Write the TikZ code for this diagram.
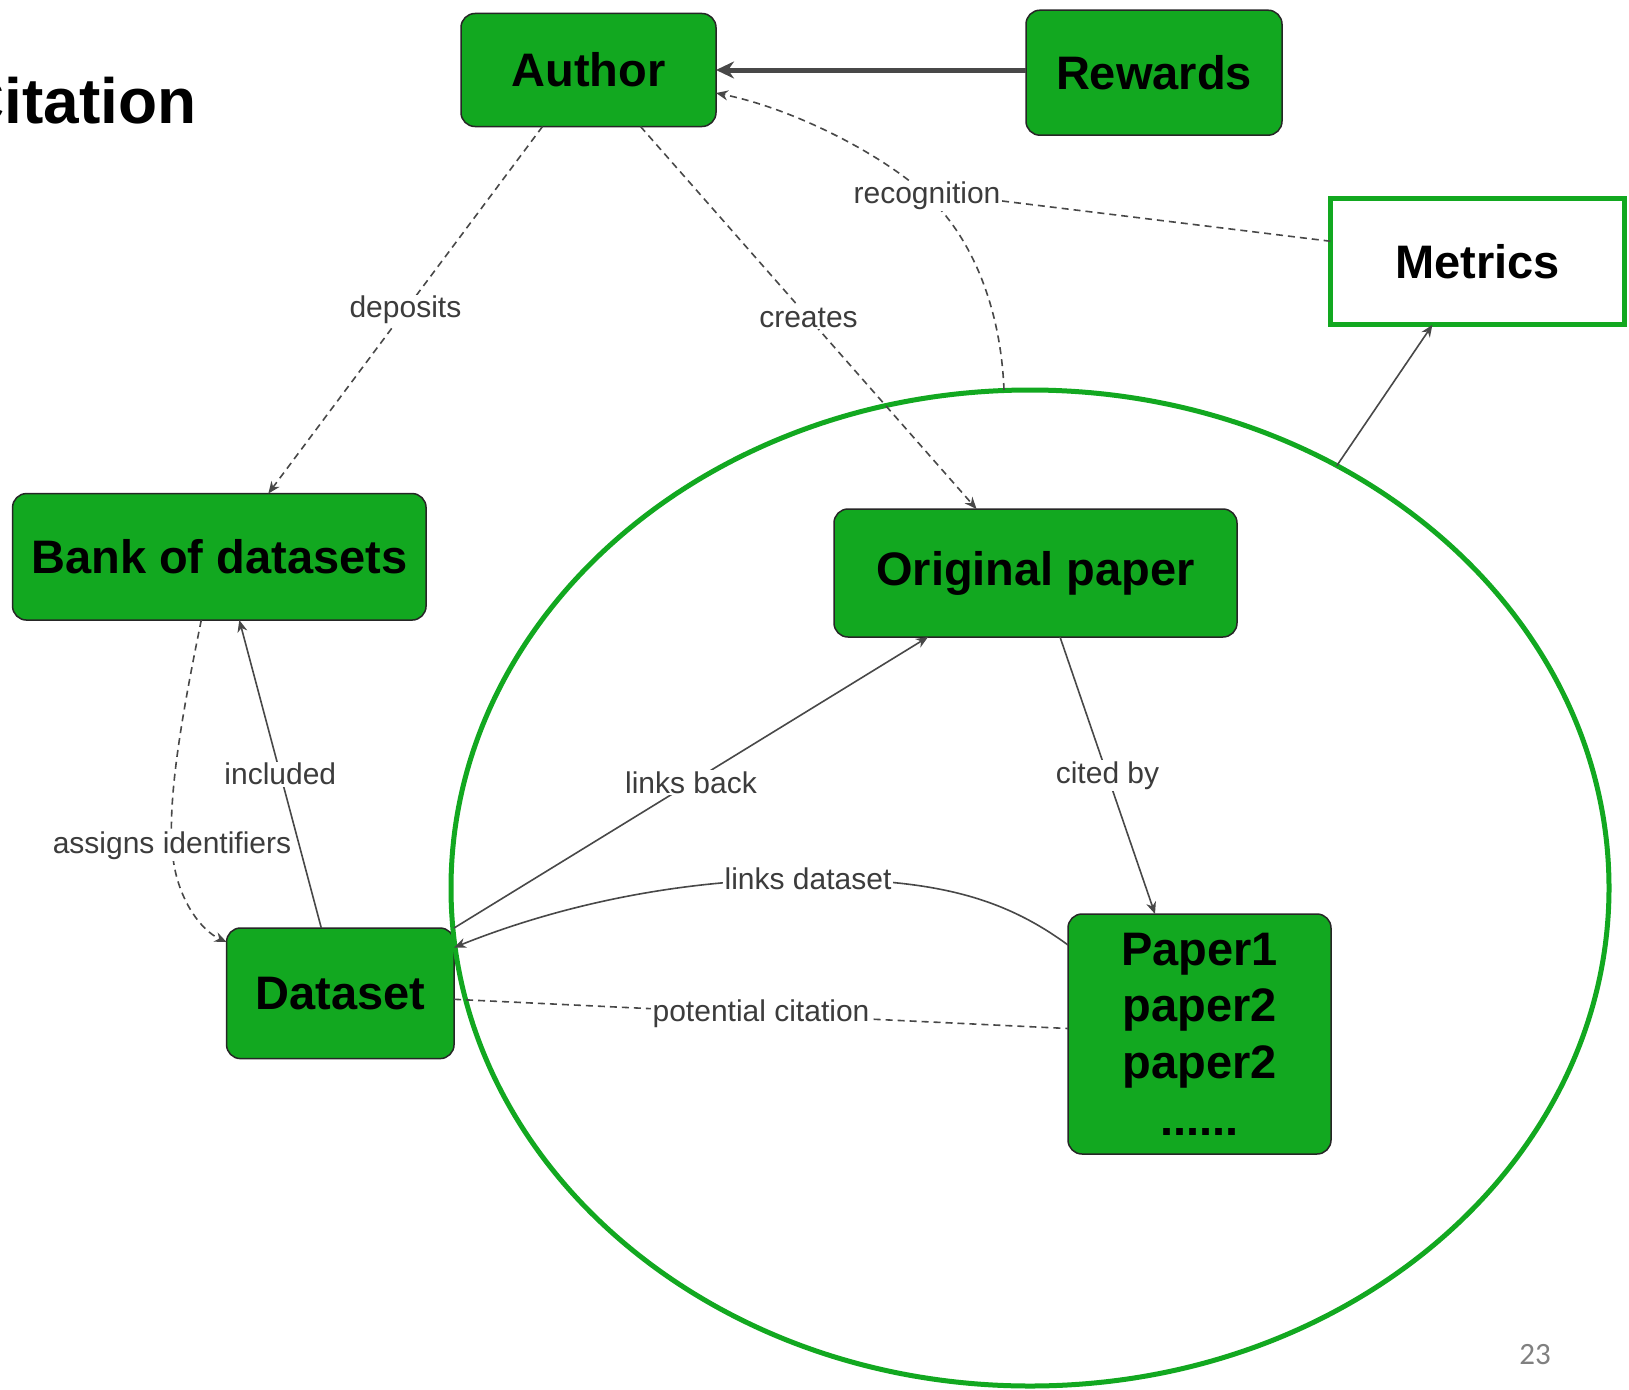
\documentclass[tikz,border=0pt]{standalone}
\usepackage{fontspec}
\setmainfont{Liberation Sans}
\newfontfamily\numfont{Carlito}
\usetikzlibrary{shapes.geometric,arrows.meta}

\definecolor{boxgreen}{RGB}{18,168,32}
\definecolor{linegray}{RGB}{72,72,72}
\definecolor{labelgray}{RGB}{60,60,60}
\definecolor{pagegray}{RGB}{128,128,128}

\begin{document}
\begin{tikzpicture}[x=1pt,y=-1pt,
  box/.style={draw=black!85, line width=1.5pt, fill=boxgreen, rounded corners=14pt,
    font=\fontsize{47}{56.6}\selectfont\bfseries, text=black, align=center,
    inner sep=0pt, outer sep=0pt},
  openbox/.style={draw=boxgreen, line width=5pt, fill=white,
    font=\fontsize{47}{56.6}\selectfont\bfseries, text=black,
    inner sep=0pt, outer sep=0pt},
  lbl/.style={font=\fontsize{30}{36}\selectfont, text=labelgray, fill=white, inner sep=1.5pt},
  link/.style={draw=linegray, line width=1.6pt},
  dlink/.style={link, dash pattern=on 7pt off 5pt},
  arrowend/.style={-{Stealth[length=12pt,width=10pt]}}
]
% page
\fill[white] (0,0) rectangle (1629,1389);
\useasboundingbox (0,0) rectangle (1629,1389);

% title
\node[anchor=base east, font=\fontsize{64}{70}\selectfont\bfseries, inner sep=0pt]
  (title) at (197,123) {Citation};

% boxes
\node[box, minimum width=255, minimum height=113] (Author) at (588.5,70) {Author};
\node[box, minimum width=256, minimum height=125] (Rewards) at (1154,72.7) {Rewards};
\node[openbox, minimum width=294, minimum height=126] (Metrics) at (1477.4,261.9) {Metrics};
\node[box, minimum width=413.5, minimum height=126.5] (Bank) at (219.3,556.8) {Bank of datasets};
\node[box, minimum width=403, minimum height=128] (Orig) at (1035.5,573) {Original paper};
\node[box, minimum width=227.5, minimum height=130.6] (Dataset) at (340.3,993.3) {Dataset};
\node[box, minimum width=263, minimum height=240] (Papers) at (1199.5,1034)
  {Paper1\\paper2\\paper2\\......};

% the citation circle
\node[ellipse, draw=boxgreen, line width=5pt, minimum width=1158, minimum height=996,
  inner sep=0pt, outer sep=0pt] (ell) at (1030,888) {};

% page number
\node[font=\numfont\fontsize{31}{36}\selectfont, text=pagegray] (pagenum) at (1535,1355) {23};

% Rewards feed back to the author
\draw[draw=linegray, line width=5pt, -{Stealth[length=18pt,width=17pt]}]
  (Rewards.west |- Author.east) -- (Author.east);

% recognition: from the circle back to the author, joined by Metrics
\coordinate (recogpt) at (927,196);
\coordinate (elltop) at ([xshift=-26pt]ell.north);
\draw[dlink] (elltop) .. controls (1000,290) and (960,225) .. (recogpt);
\draw[dlink, arrowend] (recogpt) .. controls (890,160) and (800,110) .. ([yshift=-23pt]Author.east);
\node[lbl] (recog) at (recogpt) {recognition};
\draw[dlink] ([yshift=-5pt]recog.east) -- (Metrics.172);

% author relations
\draw[dlink, arrowend] ([xshift=-46pt]Author.south) -- node[lbl]{deposits} ([xshift=49pt]Bank.north);
\draw[dlink, arrowend] ([xshift=52pt]Author.south) -- node[lbl]{creates} ([xshift=-59pt]Orig.north);

% bank and dataset
\coordinate (assignpt) at (172,846);
\draw[dlink] ([xshift=-18pt]Bank.south) .. controls (185,700) and (168,790) .. (assignpt);
\draw[dlink, arrowend] (assignpt) .. controls (174,895) and (200,930) .. ([yshift=-14pt]Dataset.north west);
\node[lbl] (assign) at (assignpt) {assigns identifiers};
\draw[link, arrowend] ([xshift=-19pt]Dataset.north) -- node[lbl]{included} ([xshift=20pt]Bank.south);

% dataset and papers
\draw[link, arrowend] (Dataset.north east) -- node[lbl]{links back} ([xshift=-107.5pt]Orig.south);
\draw[link, arrowend] ([xshift=24.5pt]Orig.south) -- node[lbl]{cited by} ([xshift=-44.5pt]Papers.north);

\coordinate (ldpt) at (808,879);
\draw[link] ([yshift=-31pt]Papers.north west) .. controls (1000,895) and (930,879) .. (ldpt);
\draw[link, arrowend] (ldpt) .. controls (680,879) and (560,905) .. ([yshift=-19.5pt]Dataset.north east);
\node[lbl] (linksds) at (ldpt) {links dataset};

\draw[dlink] ([yshift=-6pt]Dataset.east) -- node[lbl]{potential citation} ([yshift=5.5pt]Papers.west);

% circle to metrics
\draw[link, arrowend] (ell.54.5) -- ([xshift=-45pt]Metrics.south);
\end{tikzpicture}
\end{document}
